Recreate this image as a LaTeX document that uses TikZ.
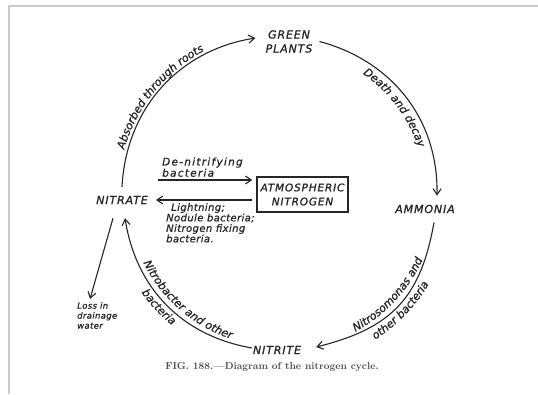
\documentclass[tikz,border=0pt]{standalone}
\usepackage{fontspec}
\newfontfamily\nmfont{DejaVu Sans Oblique}[LetterSpace=8, FakeBold=1.2]
\newfontfamily\labfont{DejaVu Sans Oblique}[LetterSpace=4, FakeBold=0.8]
\newfontfamily\labwide{DejaVu Sans Oblique}[LetterSpace=12, FakeBold=0.8]
\newfontfamily\arcfont{DejaVu Sans Oblique}[FakeBold=0.8]
\usetikzlibrary{arrows.meta,decorations.text,calc}
\newcommand\arclabfont{\arcfont\fontsize{11}{13}\selectfont}
\begin{document}
\begin{tikzpicture}[x=1pt,y=1pt,
  conn/.style={draw=black!85, line width=1.1pt, -{Straight Barb[length=6pt,width=8pt,line width=1.1pt]}},
  place/.style={text=black!85, font=\nmfont\fontsize{11}{14}\selectfont, inner xsep=8pt, inner ysep=9pt, align=center},
  lab/.style={text=black!85, font=\labfont\fontsize{10}{10.5}\selectfont, align=left, inner sep=0pt},
  arclab/.style={decorate, decoration={text along path, text align=center, text color=black!85}},
]
\useasboundingbox (0,0) rectangle (538,394);
\fill[white] (0,0) rectangle (538,394);
\draw[black!20, line width=1.2pt] (538,388) -- (9,388) -- (9,0);
\coordinate (C) at (280,200);
% places
\node[place] (nitrate) at (122,194) {NITRATE};
\node[place, inner xsep=10pt, inner ysep=2pt] (green) at (289,352.5) {GREEN\\PLANTS};
\node[place] (ammonia) at (425,185) {AMMONIA};
\node[place, inner xsep=1pt] (nitrite) at (277,44) {NITRITE};
\node[draw=black!85, line width=1.3pt, minimum width=91pt, minimum height=35pt, align=center,
      font=\nmfont\fontsize{10.5}{14}\selectfont, text=black!85, inner sep=2pt] (atm) at (302.5,199.5) {ATMOSPHERIC\\NITROGEN};
\node[lab, font=\labfont\fontsize{8.5}{10}\selectfont, anchor=north west] (loss) at (77,92) {Loss in\\drainage\\water};
% cycle arcs
\draw[conn] (nitrate.north) to[out=87,in=189] ([yshift=3.5pt]green.west);
\draw[conn] ([xshift=-3pt]green.east) to[out=-15,in=89] ([xshift=12pt]ammonia.north);
\draw[conn] ([xshift=9pt]ammonia.south) to[out=-100,in=14,looseness=1.15] ([shift={(14pt,3pt)}]nitrite.east);
\draw[conn] ([yshift=2pt]nitrite.west) to[out=170,in=-81] ([shift={(3pt,-5pt)}]nitrate.south);
% loss
\draw[conn] ([shift={(-9pt,-5pt)}]nitrate.south) -- ([shift={(13pt,3pt)}]loss.north west);
% atmospheric exchange
\coordinate (dn) at (158,214);
\draw[conn, shorten >=4pt] (dn) -- (dn -| atm.west);
\draw[conn, shorten <=4pt] (atm.west |- nitrate.east) -- (nitrate.east);
\node[lab, anchor=south west, font=\labwide\fontsize{10.5}{10}\selectfont] (denit) at (162,217) {De-nitrifying\\bacteria};
\node[lab, anchor=north west] (light) at (166,191) {\hspace*{5pt}Lightning;\\Nodule bacteria;\\Nitrogen fixing\\bacteria.};
% arc labels
\path[arclab, decoration={text={|\arclabfont|Absorbed through roots}}] ([shift={(181:162)}]C) arc[start angle=181, end angle=101, radius=162];
\path[arclab, decoration={text={|\arclabfont|Death and decay}}] ([shift={(77:146)}]C) arc[start angle=77, end angle=-3, radius=146];
\path[arclab, decoration={text={|\arclabfont|Nitrosomonas and}}] ([shift={(-83:157)}]C) arc[start angle=-83, end angle=-3, radius=157];
\path[arclab, decoration={text={|\arclabfont|other bacteria}}] ([shift={(-84:174)}]C) arc[start angle=-84, end angle=-4, radius=174];
\path[arclab, decoration={text={|\arclabfont|Nitrobacter and other}}] ([shift={(-171:153)}]C) arc[start angle=-171, end angle=-91, radius=153];
\path[arclab, decoration={text={|\arclabfont|bacteria}}] ([shift={(-160:170)}]C) arc[start angle=-160, end angle=-114, radius=170];
% caption
\node[font=\fontsize{10}{11}\selectfont\bfseries, text=black!70] (cap) at (272,27) {FIG. 188.---Diagram of the nitrogen cycle.};
\end{tikzpicture}
\end{document}
